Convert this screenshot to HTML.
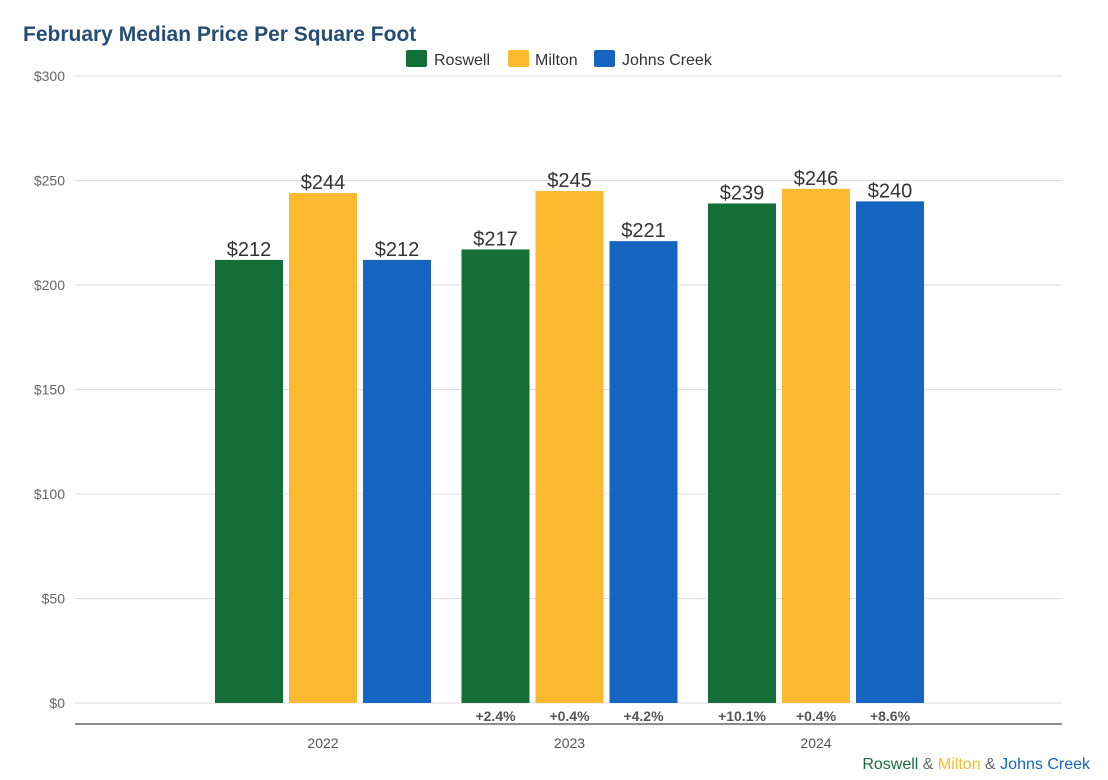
<!DOCTYPE html>
<html><head><meta charset="utf-8"><style>
body{margin:0;background:#fff;font-family:"Liberation Sans",Arial,sans-serif}
svg text{font-family:"Liberation Sans",Arial,sans-serif}
</style></head><body>
<svg id="c" width="1108" height="775" xmlns="http://www.w3.org/2000/svg">
<text x="23" y="41" font-size="21" font-weight="bold" fill="#264d75">February Median Price Per Square Foot</text>
<g>
<g><rect x="406" y="50" width="21" height="17" rx="2" fill="#146e38"/><text x="434" y="65" font-size="16" fill="#333">Roswell</text></g>
<g><rect x="508" y="50" width="21" height="17" rx="2" fill="#fbb92f"/><text x="535" y="65" font-size="16" fill="#333">Milton</text></g>
<g><rect x="594" y="50" width="21" height="17" rx="2" fill="#1565c0"/><text x="622" y="65" font-size="16" fill="#333">Johns Creek</text></g>
</g>
<g id="grid"></g><g id="bars"></g>
<line x1="75" x2="1062" y1="724" y2="724" stroke="#666" stroke-width="1.5"/>
<text x="1090" y="769" font-size="16" text-anchor="end"><tspan fill="#146e38">Roswell</tspan><tspan fill="#666"> &amp; </tspan><tspan fill="#fbb92f">Milton</tspan><tspan fill="#666"> &amp; </tspan><tspan fill="#1565c0">Johns Creek</tspan></text>
</svg>
<script>
const years=["2022","2023","2024"];
const roswell=[212,217,239];
const milton=[244,245,246];
const johnsCreek=[212,221,240];
const roswellPct=["","+2.4%","+10.1%"];
const miltonPct=["","+0.4%","+0.4%"];
const jcPct=["","+4.2%","+8.6%"];
const ticks=[0,50,100,150,200,250,300];
const NS="http://www.w3.org/2000/svg";
const y=v=>703-v*627/300;
const gx=i=>215+i*246.5;
function mk(t,a,p,txt){const e=document.createElementNS(NS,t);for(const k in a)e.setAttribute(k,a[k]);if(txt!==undefined)e.textContent=txt;p.appendChild(e);return e;}
const G=document.getElementById('grid'),B=document.getElementById('bars');
ticks.forEach(t=>{
 const l=mk('line',{x1:75,x2:1062,y1:y(t),y2:y(t),stroke:'#ddd','stroke-width':1},G);
 
 
 const tx=mk('text',{x:65,y:y(t)+5,'font-size':14,fill:'#666','text-anchor':'end'},G,'$'+t);
 
 
});
const series=[[roswell,'#146e38',roswellPct,'roswell'],[milton,'#fbb92f',miltonPct,'milton'],[johnsCreek,'#1565c0',jcPct,'johns-creek']];
years.forEach((yr,i)=>{
 series.forEach(([d,c,p,n],s)=>{
  const x=gx(i)+s*74;
  const r=mk('rect',{x:x,y:y(d[i]),width:68,height:703-y(d[i]),fill:c},B);
  
  
  const t=mk('text',{x:x+34,y:y(d[i])-4,'font-size':20,fill:'#333','text-anchor':'middle'},B,'$'+d[i]);
  
  
  if(p[i]){const q=mk('text',{x:x+34,y:721,'font-size':14,'font-weight':'bold',fill:'#555','text-anchor':'middle'},B,p[i]);
  
  }
 });
 const yt=mk('text',{x:gx(i)+108,y:748,'font-size':14,fill:'#555','text-anchor':'middle'},B,yr);
 
 
});
</script>
</body></html>
